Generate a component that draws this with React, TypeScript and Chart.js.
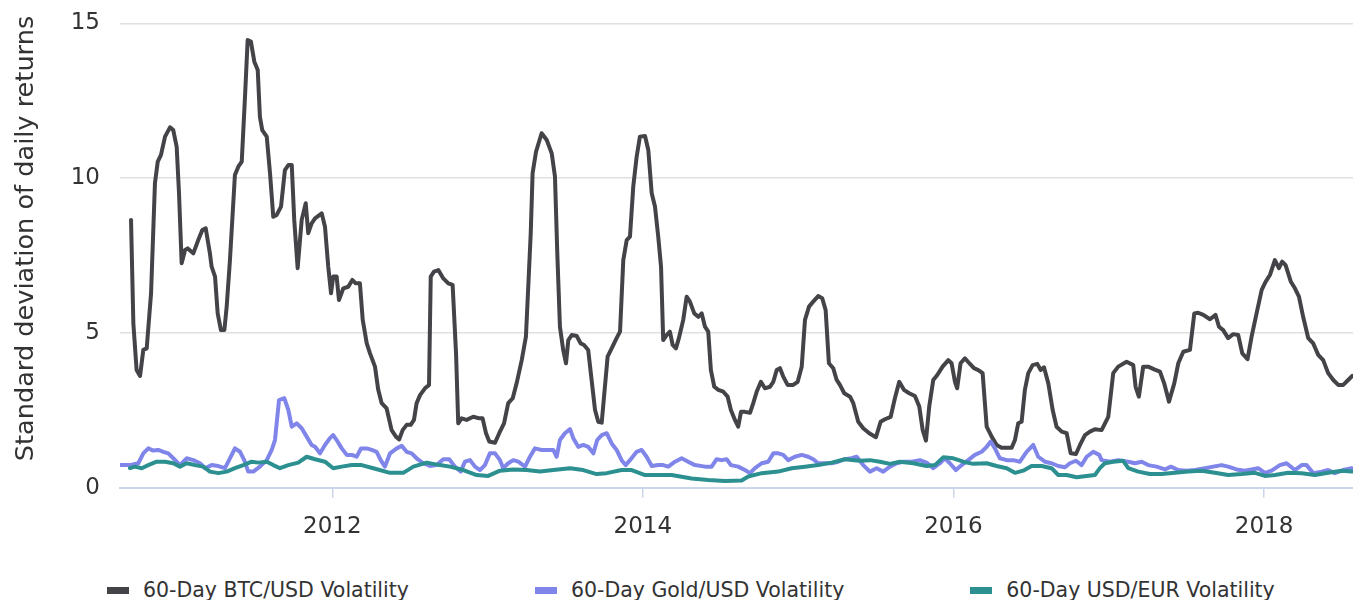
import React, { useEffect, useRef } from "react";
import { Chart, registerables } from "chart.js";

Chart.register(...registerables);

// ---------- data (x in decimal years) ----------
const btcYears = [
  2010.704, 2010.719, 2010.74, 2010.762, 2010.783, 2010.805, 2010.833, 2010.858, 2010.876, 2010.897,
  2010.923, 2010.955, 2010.976, 2010.998, 2011.013, 2011.03, 2011.052, 2011.069, 2011.105, 2011.137,
  2011.163, 2011.185, 2011.212, 2011.223, 2011.245, 2011.262, 2011.283, 2011.305, 2011.32, 2011.341,
  2011.373, 2011.395, 2011.417, 2011.438, 2011.455, 2011.476, 2011.498, 2011.52, 2011.534, 2011.549,
  2011.578, 2011.599, 2011.62, 2011.642, 2011.67, 2011.695, 2011.717, 2011.739, 2011.755, 2011.777,
  2011.803, 2011.829, 2011.845, 2011.867, 2011.889, 2011.932, 2011.953, 2011.974, 2011.992, 2012.006,
  2012.028, 2012.043, 2012.071, 2012.103, 2012.129, 2012.151, 2012.178, 2012.196, 2012.222, 2012.243,
  2012.275, 2012.296, 2012.318, 2012.35, 2012.382, 2012.41, 2012.431, 2012.453, 2012.479, 2012.505,
  2012.526, 2012.543, 2012.565, 2012.597, 2012.623, 2012.634, 2012.655, 2012.683, 2012.715, 2012.747,
  2012.775, 2012.797, 2012.811, 2012.833, 2012.865, 2012.908, 2012.947, 2012.968, 2012.99, 2013.011,
  2013.048, 2013.075, 2013.106, 2013.133, 2013.162, 2013.187, 2013.22, 2013.247, 2013.262, 2013.278,
  2013.29, 2013.312, 2013.348, 2013.381, 2013.413, 2013.434, 2013.449, 2013.466, 2013.487, 2013.505,
  2013.52, 2013.542, 2013.574, 2013.6, 2013.621, 2013.648, 2013.67, 2013.692, 2013.713, 2013.735,
  2013.773, 2013.799, 2013.831, 2013.853, 2013.874, 2013.896, 2013.917, 2013.938, 2013.96, 2013.981,
  2014.014, 2014.035, 2014.057, 2014.078, 2014.099, 2014.117, 2014.131, 2014.153, 2014.174, 2014.192,
  2014.213, 2014.232, 2014.26, 2014.282, 2014.303, 2014.331, 2014.357, 2014.379, 2014.4, 2014.421,
  2014.438, 2014.46, 2014.486, 2014.518, 2014.546, 2014.567, 2014.593, 2014.614, 2014.632, 2014.657,
  2014.69, 2014.711, 2014.733, 2014.76, 2014.786, 2014.818, 2014.84, 2014.862, 2014.883, 2014.904,
  2014.932, 2014.968, 2014.997, 2015.023, 2015.044, 2015.07, 2015.097, 2015.129, 2015.155, 2015.177,
  2015.198, 2015.226, 2015.248, 2015.269, 2015.297, 2015.334, 2015.355, 2015.387, 2015.419, 2015.458,
  2015.501, 2015.531, 2015.559, 2015.596, 2015.623, 2015.651, 2015.681, 2015.715, 2015.752, 2015.78,
  2015.802, 2015.823, 2015.844, 2015.87, 2015.896, 2015.93, 2015.967, 2015.988, 2016.01, 2016.024,
  2016.046, 2016.074, 2016.102, 2016.132, 2016.16, 2016.188, 2016.214, 2016.246, 2016.278, 2016.31,
  2016.343, 2016.375, 2016.396, 2016.417, 2016.439, 2016.46, 2016.482, 2016.51, 2016.54, 2016.562,
  2016.583, 2016.611, 2016.639, 2016.664, 2016.697, 2016.729, 2016.755, 2016.789, 2016.815, 2016.847,
  2016.879, 2016.911, 2016.954, 2016.997, 2017.029, 2017.061, 2017.115, 2017.158, 2017.173, 2017.194,
  2017.222, 2017.254, 2017.293, 2017.33, 2017.357, 2017.388, 2017.422, 2017.448, 2017.48, 2017.523,
  2017.551, 2017.576, 2017.609, 2017.652, 2017.688, 2017.71, 2017.737, 2017.769, 2017.802, 2017.834,
  2017.86, 2017.894, 2017.92, 2017.952, 2017.985, 2018.01, 2018.038, 2018.07, 2018.096, 2018.117,
  2018.139, 2018.173, 2018.199, 2018.225, 2018.252, 2018.285, 2018.317, 2018.349, 2018.381, 2018.413,
  2018.446, 2018.478, 2018.51, 2018.542, 2018.568,
];
const btcValues = [
  8.65, 5.31, 3.8, 3.61, 4.45, 4.5, 6.28, 9.83, 10.53, 10.75,
  11.34, 11.64, 11.55, 11.01, 9.51, 7.25, 7.68, 7.73, 7.57, 8.0,
  8.32, 8.38, 7.57, 7.14, 6.82, 5.63, 5.09, 5.09, 5.85, 7.35,
  10.1, 10.37, 10.53, 12.63, 14.46, 14.41, 13.76, 13.49, 11.98, 11.55,
  11.34, 10.16, 8.75, 8.81, 9.08, 10.26, 10.42, 10.42, 8.65, 7.09,
  8.65, 9.19, 8.22, 8.54, 8.7, 8.86, 8.43, 7.14, 6.28, 6.82,
  6.82, 6.06, 6.44, 6.49, 6.71, 6.6, 6.6, 5.42, 4.66, 4.34,
  3.91, 3.16, 2.73, 2.56, 1.86, 1.65, 1.56, 1.86, 2.03, 2.03,
  2.19, 2.73, 2.99, 3.21, 3.32, 6.82, 6.98, 7.03, 6.76, 6.6,
  6.55, 4.34, 2.08, 2.24, 2.19, 2.29, 2.24, 2.24, 1.76, 1.49,
  1.45, 1.76, 2.08, 2.73, 2.89, 3.37, 4.12, 4.88, 6.49, 8.22,
  10.16, 10.85, 11.45, 11.23, 10.8, 10.05, 7.57, 5.2, 4.45, 4.02,
  4.77, 4.93, 4.9, 4.66, 4.61, 4.45, 3.48, 2.51, 2.13, 2.1,
  4.23, 4.5, 4.83, 5.04, 7.35, 8.0, 8.11, 9.72, 10.69, 11.34,
  11.36, 10.91, 9.51, 9.08, 8.11, 7.14, 4.77, 4.93, 5.04, 4.61,
  4.5, 4.83, 5.42, 6.17, 6.01, 5.63, 5.52, 5.63, 5.2, 5.04,
  3.8, 3.26, 3.16, 3.1, 2.94, 2.51, 2.19, 1.97, 2.45, 2.45,
  2.42, 2.73, 3.1, 3.42, 3.21, 3.26, 3.42, 3.8, 3.86, 3.59,
  3.32, 3.32, 3.42, 3.91, 5.42, 5.85, 6.01, 6.19, 6.12, 5.74,
  4.02, 3.86, 3.48, 3.32, 3.05, 2.94, 2.73, 2.13, 1.92, 1.76,
  1.63, 2.13, 2.21, 2.29, 2.89, 3.42, 3.16, 3.05, 2.96, 2.62,
  1.86, 1.52, 2.62, 3.48, 3.64, 3.91, 4.12, 4.02, 3.42, 3.21,
  4.02, 4.18, 4.02, 3.86, 3.8, 3.7, 1.97, 1.65, 1.38, 1.29,
  1.29, 1.29, 1.54, 2.08, 2.13, 3.16, 3.7, 3.96, 4.0, 3.8,
  3.89, 3.37, 2.51, 1.97, 1.81, 1.76, 1.11, 1.09, 1.38, 1.7,
  1.81, 1.89, 1.86, 2.29, 3.7, 3.91, 4.07, 3.96, 3.26, 2.94,
  3.91, 3.91, 3.82, 3.75, 3.37, 2.78, 3.37, 4.02, 4.39, 4.45,
  5.63, 5.65, 5.58, 5.44, 5.58, 5.2, 5.09, 4.83, 4.96, 4.93,
  4.34, 4.15, 4.88, 5.63, 6.39, 6.65, 6.87, 7.35, 7.09, 7.3,
  7.19, 6.65, 6.44, 6.17, 5.52, 4.83, 4.66, 4.29, 4.12, 3.7,
  3.48, 3.32, 3.32, 3.48, 3.61,
];

const goldYears = [
  2010.633, 2010.697, 2010.751, 2010.783, 2010.815, 2010.847, 2010.88, 2010.912, 2010.944, 2010.976,
  2011.019, 2011.062, 2011.105, 2011.148, 2011.18, 2011.223, 2011.266, 2011.309, 2011.341, 2011.373,
  2011.406, 2011.433, 2011.459, 2011.491, 2011.534, 2011.578, 2011.61, 2011.631, 2011.657, 2011.691,
  2011.717, 2011.739, 2011.771, 2011.803, 2011.835, 2011.867, 2011.889, 2011.921, 2011.953, 2011.985,
  2012.006, 2012.028, 2012.061, 2012.093, 2012.125, 2012.157, 2012.185, 2012.222, 2012.254, 2012.286,
  2012.312, 2012.339, 2012.372, 2012.415, 2012.447, 2012.479, 2012.511, 2012.543, 2012.586, 2012.629,
  2012.672, 2012.715, 2012.753, 2012.79, 2012.827, 2012.854, 2012.887, 2012.919, 2012.951, 2012.983,
  2013.015, 2013.048, 2013.08, 2013.101, 2013.133, 2013.165, 2013.198, 2013.241, 2013.273, 2013.305,
  2013.348, 2013.391, 2013.423, 2013.445, 2013.466, 2013.498, 2013.531, 2013.552, 2013.584, 2013.616,
  2013.648, 2013.681, 2013.706, 2013.735, 2013.767, 2013.799, 2013.831, 2013.863, 2013.889, 2013.917,
  2013.96, 2013.992, 2014.024, 2014.057, 2014.099, 2014.131, 2014.164, 2014.207, 2014.25, 2014.292,
  2014.335, 2014.4, 2014.443, 2014.475, 2014.507, 2014.54, 2014.567, 2014.614, 2014.657, 2014.69,
  2014.722, 2014.765, 2014.807, 2014.84, 2014.872, 2014.904, 2014.936, 2014.979, 2015.023, 2015.065,
  2015.097, 2015.129, 2015.173, 2015.216, 2015.258, 2015.301, 2015.344, 2015.377, 2015.419, 2015.462,
  2015.505, 2015.548, 2015.591, 2015.634, 2015.677, 2015.731, 2015.784, 2015.827, 2015.87, 2015.913,
  2015.945, 2015.977, 2016.016, 2016.053, 2016.095, 2016.138, 2016.182, 2016.214, 2016.24, 2016.267,
  2016.299, 2016.343, 2016.385, 2016.428, 2016.471, 2016.514, 2016.546, 2016.589, 2016.632, 2016.675,
  2016.718, 2016.75, 2016.789, 2016.825, 2016.858, 2016.9, 2016.939, 2016.954, 2017.008, 2017.061,
  2017.126, 2017.169, 2017.212, 2017.254, 2017.308, 2017.362, 2017.4, 2017.448, 2017.502, 2017.555,
  2017.62, 2017.673, 2017.727, 2017.769, 2017.823, 2017.877, 2017.92, 2017.962, 2018.006, 2018.049,
  2018.102, 2018.145, 2018.199, 2018.242, 2018.274, 2018.317, 2018.371, 2018.413, 2018.456, 2018.51,
  2018.564,
];
const goldValues = [
  0.73, 0.73, 0.79, 1.11, 1.27, 1.2, 1.22, 1.16, 1.11, 0.95,
  0.73, 0.95, 0.89, 0.79, 0.63, 0.73, 0.7, 0.63, 0.95, 1.27,
  1.16, 0.89, 0.52, 0.52, 0.68, 0.89, 1.22, 1.54, 2.83, 2.89,
  2.51, 1.97, 2.08, 1.92, 1.65, 1.38, 1.32, 1.11, 1.38, 1.6,
  1.7, 1.54, 1.27, 1.06, 1.06, 1.0, 1.27, 1.27, 1.22, 1.16,
  0.89, 0.68, 1.11, 1.27, 1.35, 1.16, 1.11, 0.95, 0.79, 0.7,
  0.73, 0.92, 0.92, 0.68, 0.52, 0.84, 0.89, 0.68, 0.57, 0.73,
  1.11, 1.11, 0.89, 0.63, 0.79, 0.89, 0.84, 0.68, 1.0, 1.27,
  1.22, 1.22, 1.22, 1.0, 1.54, 1.76, 1.89, 1.6, 1.32, 1.38,
  1.32, 1.11, 1.54, 1.7, 1.76, 1.43, 1.22, 0.89, 0.73, 0.89,
  1.16, 1.22, 1.0, 0.7, 0.73, 0.73, 0.68, 0.84, 0.95, 0.84,
  0.73, 0.68, 0.68, 0.92, 0.89, 0.92, 0.73, 0.68, 0.57, 0.47,
  0.63, 0.79, 0.84, 1.11, 1.11, 1.06, 0.89, 1.0, 1.06, 1.0,
  0.92, 0.79, 0.79, 0.79, 0.84, 0.92, 0.95, 1.0, 0.73, 0.52,
  0.63, 0.52, 0.68, 0.79, 0.84, 0.84, 0.89, 0.81, 0.63, 0.79,
  0.95, 0.79, 0.57, 0.73, 0.89, 1.06, 1.16, 1.32, 1.49, 1.27,
  0.95, 0.89, 0.89, 0.84, 1.16, 1.38, 1.0, 0.84, 0.79, 0.7,
  0.66, 0.79, 0.87, 0.73, 1.0, 1.16, 1.06, 0.89, 0.84, 0.89,
  0.84, 0.79, 0.84, 0.73, 0.68, 0.59, 0.68, 0.57, 0.55, 0.57,
  0.63, 0.68, 0.73, 0.68, 0.59, 0.55, 0.59, 0.63, 0.48, 0.55,
  0.73, 0.79, 0.57, 0.73, 0.73, 0.47, 0.52, 0.57, 0.47, 0.57,
  0.63,
];

const eurYears = [
  2010.697, 2010.73, 2010.773, 2010.815, 2010.869, 2010.923, 2010.976, 2011.019, 2011.062, 2011.116,
  2011.169, 2011.212, 2011.266, 2011.32, 2011.373, 2011.427, 2011.481, 2011.524, 2011.578, 2011.62,
  2011.663, 2011.717, 2011.781, 2011.835, 2011.889, 2011.953, 2012.006, 2012.061, 2012.125, 2012.189,
  2012.264, 2012.372, 2012.457, 2012.522, 2012.608, 2012.693, 2012.758, 2012.844, 2012.93, 2013.004,
  2013.08, 2013.165, 2013.252, 2013.337, 2013.423, 2013.531, 2013.616, 2013.702, 2013.767, 2013.863,
  2013.928, 2014.014, 2014.185, 2014.314, 2014.421, 2014.529, 2014.636, 2014.679, 2014.765, 2014.872,
  2014.958, 2015.044, 2015.129, 2015.216, 2015.301, 2015.361, 2015.398, 2015.462, 2015.527, 2015.591,
  2015.655, 2015.741, 2015.827, 2015.881, 2015.934, 2015.999, 2016.063, 2016.127, 2016.214, 2016.278,
  2016.343, 2016.396, 2016.449, 2016.503, 2016.568, 2016.632, 2016.675, 2016.729, 2016.793, 2016.858,
  2016.911, 2016.943, 2016.975, 2017.029, 2017.093, 2017.126, 2017.19, 2017.265, 2017.341, 2017.426,
  2017.512, 2017.598, 2017.684, 2017.769, 2017.856, 2017.941, 2018.006, 2018.07, 2018.156, 2018.242,
  2018.328, 2018.413, 2018.5, 2018.564,
];
const eurValues = [
  0.63, 0.68, 0.63, 0.73, 0.84, 0.84, 0.79, 0.68, 0.79, 0.73,
  0.68, 0.52, 0.47, 0.52, 0.63, 0.73, 0.84, 0.81, 0.84, 0.73,
  0.63, 0.73, 0.81, 1.0, 0.92, 0.84, 0.63, 0.68, 0.73, 0.73,
  0.63, 0.48, 0.48, 0.68, 0.81, 0.73, 0.68, 0.57, 0.41, 0.38,
  0.55, 0.59, 0.57, 0.52, 0.57, 0.63, 0.57, 0.44, 0.47, 0.57,
  0.57, 0.41, 0.41, 0.3, 0.25, 0.22, 0.23, 0.36, 0.47, 0.52,
  0.63, 0.68, 0.73, 0.81, 0.92, 0.89, 0.87, 0.89, 0.84, 0.77,
  0.84, 0.79, 0.7, 0.73, 0.98, 0.95, 0.84, 0.77, 0.79, 0.7,
  0.63, 0.48, 0.55, 0.7, 0.7, 0.63, 0.41, 0.41, 0.34, 0.38,
  0.41, 0.63, 0.79, 0.84, 0.87, 0.63, 0.52, 0.44, 0.44, 0.48,
  0.52, 0.55, 0.48, 0.41, 0.44, 0.48, 0.38, 0.41, 0.48, 0.47,
  0.41, 0.48, 0.55, 0.52,
];

const seriesNames = [
  "60-Day BTC/USD Volatility",
  "60-Day Gold/USD Volatility",
  "60-Day USD/EUR Volatility",
];
const seriesColors = ["#434348", "#8085e9", "#2b908f"];
const xTickYears = [2012, 2014, 2016, 2018];
const yTickValues = [0, 5, 10, 15];
const xRange = [2010.633, 2018.573];
const yRange = [0, 15];
const yAxisTitle = "Standard deviation of daily returns";

const FONT = '"DejaVu Sans", sans-serif';
const TEXT_COLOR = "#333333";

const toPoints = (xs: number[], ys: number[]) => xs.map((x, i) => ({ x, y: ys[i] }));

const yTitlePlugin = {
  id: "yTitleText",
  afterDraw(chart: any) {
    const ctx = chart.ctx;
    const area = chart.chartArea;
    ctx.save();
    ctx.font = `25.6px ${FONT}`;
    ctx.fillStyle = TEXT_COLOR;
    ctx.textAlign = "center";
    ctx.textBaseline = "alphabetic";
    ctx.translate(33, (area.top + area.bottom) / 2 - 17);
    ctx.rotate(-Math.PI / 2);
    ctx.fillText(yAxisTitle, 0, 0);
    ctx.restore();
  },
};

export default function App() {
  const canvasRef = useRef<HTMLCanvasElement | null>(null);

  useEffect(() => {
    if (!canvasRef.current) return;
    const seriesData = [
      toPoints(btcYears, btcValues),
      toPoints(goldYears, goldValues),
      toPoints(eurYears, eurValues),
    ];
    const chart = new Chart(canvasRef.current, {
      type: "line",
      data: {
        datasets: seriesNames.map((name, i) => ({
          label: name,
          data: seriesData[i],
          borderColor: seriesColors[i],
          backgroundColor: seriesColors[i],
          borderWidth: 4,
          pointRadius: 0,
          tension: 0,
          fill: false,
          borderJoinStyle: "round" as const,
          borderCapStyle: "round" as const,
          order: 3 - i,
        })),
      },
      options: {
        responsive: false,
        animation: false,
        devicePixelRatio: 1,
        layout: { padding: { top: 23.3, bottom: 12.3, left: 0, right: 0 } },
        plugins: {
          legend: { display: false },
          tooltip: { enabled: false },
          title: { display: false },
        },
        scales: {
          x: {
            type: "linear",
            min: xRange[0],
            max: xRange[1],
            afterBuildTicks: (scale: any) => {
              scale.ticks = xTickYears.map((v) => ({ value: v }));
            },
            afterFit: (scale: any) => {
              scale.height = 60;
              scale.paddingLeft = 0;
              scale.paddingRight = 0;
            },
            ticks: {
              autoSkip: false,
              maxRotation: 0,
              padding: 16,
              color: TEXT_COLOR,
              font: { family: FONT, size: 23 },
              callback: (v: any) => String(v),
            },
            grid: {
              drawOnChartArea: false,
              drawTicks: true,
              tickLength: 10,
              color: "#ccd6eb",
              lineWidth: 1.5,
            },
            border: { display: true, color: "#ccd6eb", width: 2 },
          },
          y: {
            type: "linear",
            min: yRange[0],
            max: yRange[1],
            afterBuildTicks: (scale: any) => {
              scale.ticks = yTickValues.map((v) => ({ value: v }));
            },
            afterFit: (scale: any) => {
              scale.width = 120;
              scale.paddingTop = 0;
              scale.paddingBottom = 0;
            },
            ticks: {
              padding: 20,
              color: TEXT_COLOR,
              font: { family: FONT, size: 23 },
              callback: (v: any) => String(v),
            },
            grid: {
              drawTicks: false,
              lineWidth: 1.5,
              color: (c: any) => (c.tick && c.tick.value === 0 ? "rgba(0,0,0,0)" : "#e0e0e0"),
            },
            border: { display: false },
          },
        },
      },
      plugins: [yTitlePlugin],
    });
    return () => chart.destroy();
  }, []);

  return (
    <div
      style={{
        position: "absolute",
        left: 0,
        top: 0,
        width: 1353,
        height: 600,
        overflow: "hidden",
        background: "#ffffff",
      }}
    >
      <canvas ref={canvasRef} width={1353} height={560} style={{ display: "block" }} />
      <div
        style={{
          position: "absolute",
          left: 107,
          top: 578,
          display: "flex",
          alignItems: "center",
          gap: 126,
          whiteSpace: "nowrap",
          fontFamily: FONT,
          fontSize: "20.5px",
          color: TEXT_COLOR,
        }}
      >
        {seriesNames.map((name, i) => (
          <div key={name} style={{ display: "flex", alignItems: "center" }}>
            <span
              style={{
                display: "inline-block",
                width: 22,
                height: 7,
                background: seriesColors[i],
                marginRight: 14,
              }}
            />
            <span>{name}</span>
          </div>
        ))}
      </div>
    </div>
  );
}
